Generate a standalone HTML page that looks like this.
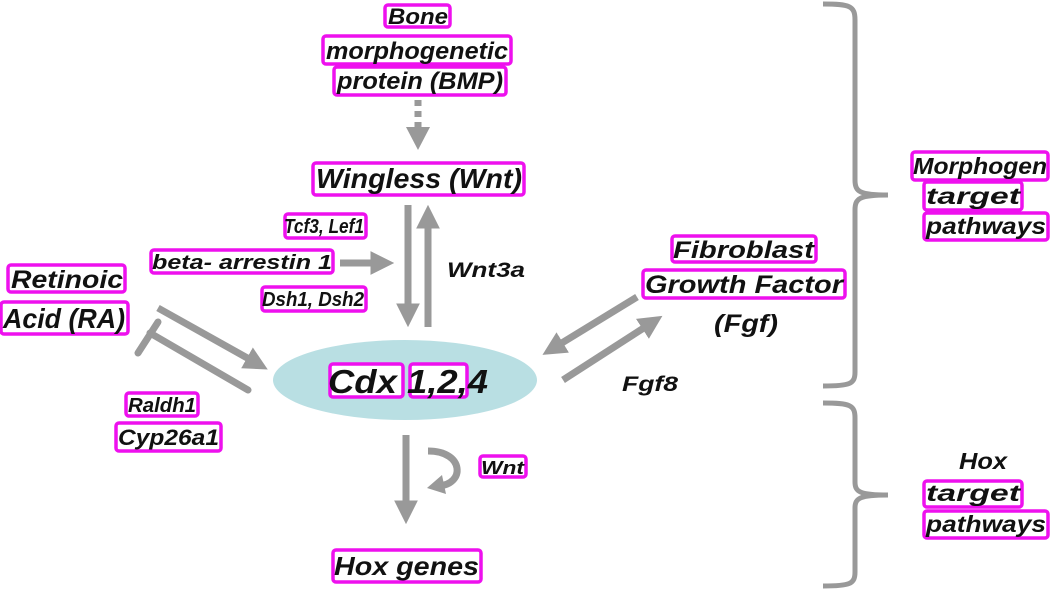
<!DOCTYPE html>
<html><head><meta charset="utf-8"><style>
html,body{margin:0;padding:0;background:#fff;}
svg{display:block;}
text{font-family:"Liberation Sans",Arial,sans-serif;font-weight:bold;font-style:italic;fill:#111;}
.b{fill:#fff;stroke:#ee10ee;stroke-width:3.5;}
.g{stroke:#999;fill:none;}
</style></head><body>
<svg width="1050" height="591" viewBox="0 0 1050 591" xmlns="http://www.w3.org/2000/svg">
<defs>
<marker id="ah" markerWidth="3.4" markerHeight="3.4" refX="1.8" refY="1.7" orient="auto" markerUnits="strokeWidth"><path d="M0,0 L3.4,1.7 L0,3.4 z" fill="#999"/></marker>
</defs>
<rect class="b" x="385" y="5" width="65" height="22" rx="3"/>
<rect class="b" x="323" y="36" width="188" height="28" rx="3"/>
<rect class="b" x="334" y="67" width="172" height="28" rx="3"/>
<rect class="b" x="313" y="163" width="211" height="32" rx="3"/>
<rect class="b" x="285" y="214" width="81" height="24" rx="3"/>
<rect class="b" x="151" y="250" width="182" height="23" rx="3"/>
<rect class="b" x="262" y="287" width="104" height="24" rx="3"/>
<rect class="b" x="8" y="265" width="117" height="27" rx="3"/>
<rect class="b" x="1" y="302" width="127" height="32" rx="3"/>
<rect class="b" x="126" y="393" width="72" height="23" rx="3"/>
<rect class="b" x="116" y="423" width="105" height="28" rx="3"/>
<rect class="b" x="672" y="236" width="144" height="26" rx="3"/>
<rect class="b" x="643" y="270" width="202" height="28" rx="3"/>
<rect class="b" x="480" y="456" width="46" height="21" rx="3"/>
<rect class="b" x="333" y="550" width="148" height="32" rx="3"/>
<rect class="b" x="912" y="152" width="136" height="28" rx="3"/>
<rect class="b" x="924" y="182" width="98" height="28" rx="3"/>
<rect class="b" x="924" y="213" width="124" height="27" rx="3"/>
<rect class="b" x="924" y="481" width="98" height="26" rx="3"/>
<rect class="b" x="924" y="511" width="124" height="27" rx="3"/>
<ellipse cx="405" cy="380" rx="132" ry="40" fill="#b9dfe3"/>
<rect class="b" x="330" y="364" width="73" height="33" rx="3"/>
<rect class="b" x="410" y="364" width="57" height="33" rx="3"/>
<line class="g" x1="418" y1="100" x2="418" y2="127" stroke-width="7" stroke-dasharray="6,5"/>
<path d="M406,127 L430,127 L418,150 z" fill="#999"/>
<line class="g" x1="408" y1="205" x2="408" y2="316" stroke-width="7" marker-end="url(#ah)"/>
<line class="g" x1="428" y1="327" x2="428" y2="216" stroke-width="7" marker-end="url(#ah)"/>
<line class="g" x1="340" y1="263" x2="383" y2="263" stroke-width="7" marker-end="url(#ah)"/>
<line class="g" x1="158" y1="308" x2="258" y2="364" stroke-width="7" marker-end="url(#ah)"/>
<line class="g" x1="248" y1="390" x2="150" y2="333" stroke-width="7" stroke-linecap="round"/>
<line class="g" x1="138" y1="353" x2="158" y2="322" stroke-width="7" stroke-linecap="round"/>
<line class="g" x1="637" y1="297" x2="552" y2="349" stroke-width="7" marker-end="url(#ah)"/>
<line class="g" x1="563" y1="380" x2="653" y2="322" stroke-width="7" marker-end="url(#ah)"/>
<line class="g" x1="406" y1="435" x2="406" y2="513" stroke-width="7" marker-end="url(#ah)"/>
<path class="g" d="M428,451 C465,451 465,485 438,486" stroke-width="7"/>
<path d="M442,475 L427,488 L446,494 z" fill="#999"/>
<path class="g" stroke-width="5" d="M823,4 C850,4 855,6 855,20 L855,180 C855,192 860,195 888,195 M888,195 C860,195 855,198 855,210 L855,372 C855,384 850,386 823,386"/>
<path class="g" stroke-width="5" d="M823,403 C850,403 855,405 855,418 L855,482 C855,492 860,495 888,495 M888,495 C860,495 855,498 855,508 L855,572 C855,584 850,586 823,586"/>
<g lengthAdjust="spacingAndGlyphs">
<text x="388" y="24" font-size="22" textLength="60" lengthAdjust="spacingAndGlyphs">Bone</text>
<text x="326" y="59" font-size="24" textLength="182" lengthAdjust="spacingAndGlyphs">morphogenetic</text>
<text x="337" y="89" font-size="24" textLength="166" lengthAdjust="spacingAndGlyphs">protein (BMP)</text>
<text x="316" y="188" font-size="28" textLength="206" lengthAdjust="spacingAndGlyphs">Wingless (Wnt)</text>
<text x="284" y="233" font-size="20" textLength="80" lengthAdjust="spacingAndGlyphs">Tcf3, Lef1</text>
<text x="152" y="269" font-size="20" textLength="180" lengthAdjust="spacingAndGlyphs">beta- arrestin 1</text>
<text x="262" y="306" font-size="20" textLength="102" lengthAdjust="spacingAndGlyphs">Dsh1, Dsh2</text>
<text x="447" y="277" font-size="21" textLength="78" lengthAdjust="spacingAndGlyphs">Wnt3a</text>
<text x="11" y="288" font-size="25" textLength="112" lengthAdjust="spacingAndGlyphs">Retinoic</text>
<text x="3" y="328" font-size="28" textLength="122" lengthAdjust="spacingAndGlyphs">Acid (RA)</text>
<text x="128" y="412" font-size="20" textLength="68" lengthAdjust="spacingAndGlyphs">Raldh1</text>
<text x="118" y="445" font-size="22" textLength="101" lengthAdjust="spacingAndGlyphs">Cyp26a1</text>
<text x="328" y="393" font-size="33" textLength="160" lengthAdjust="spacingAndGlyphs">Cdx  1,2,4</text>
<text x="673" y="258" font-size="24" textLength="141" lengthAdjust="spacingAndGlyphs">Fibroblast</text>
<text x="645" y="293" font-size="25" textLength="198" lengthAdjust="spacingAndGlyphs">Growth Factor</text>
<text x="714" y="332" font-size="25" textLength="64" lengthAdjust="spacingAndGlyphs">(Fgf)</text>
<text x="622" y="391" font-size="21" textLength="56" lengthAdjust="spacingAndGlyphs">Fgf8</text>
<text x="481" y="474" font-size="18" textLength="43" lengthAdjust="spacingAndGlyphs">Wnt</text>
<text x="334" y="575" font-size="26" textLength="145" lengthAdjust="spacingAndGlyphs">Hox genes</text>
<text x="913" y="174" font-size="23" textLength="134" lengthAdjust="spacingAndGlyphs">Morphogen</text>
<text x="926" y="204" font-size="23" textLength="94" lengthAdjust="spacingAndGlyphs">target</text>
<text x="926" y="234" font-size="23" textLength="120" lengthAdjust="spacingAndGlyphs">pathways</text>
<text x="959" y="469" font-size="23" textLength="48" lengthAdjust="spacingAndGlyphs">Hox</text>
<text x="926" y="501" font-size="23" textLength="94" lengthAdjust="spacingAndGlyphs">target</text>
<text x="926" y="532" font-size="23" textLength="120" lengthAdjust="spacingAndGlyphs">pathways</text>
</g>
</svg>
</body></html>
